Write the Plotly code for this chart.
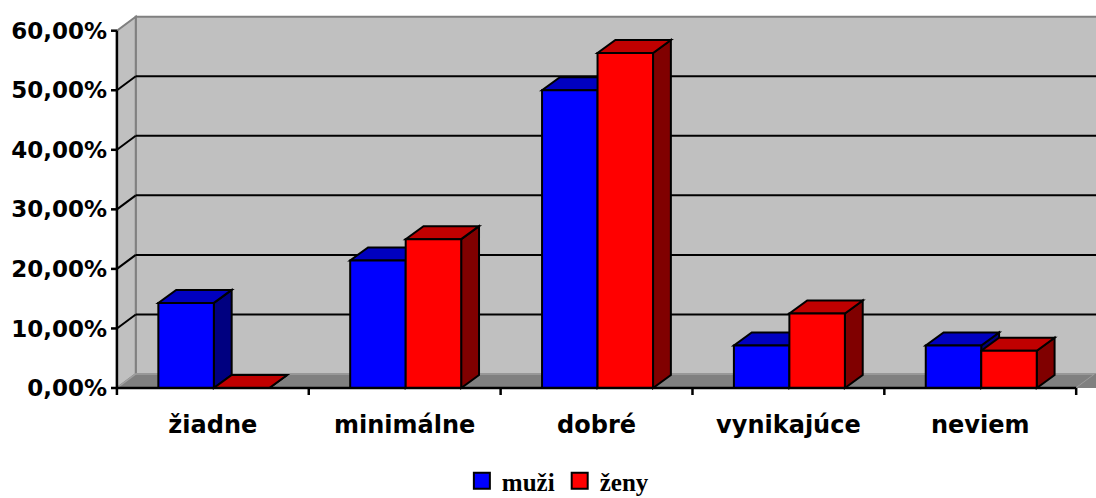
import plotly.graph_objects as go

# ---- data -------------------------------------------------------------
categories = ["žiadne", "minimálne", "dobré", "vynikajúce", "neviem"]
muzi = [14.29, 21.43, 50.00, 7.14, 7.14]
zeny = [0.00, 25.00, 56.25, 12.50, 6.25]
series_names = ["muži", "ženy"]
y_tick_values = [0, 10, 20, 30, 40, 50, 60]
y_tick_labels = ["0,00%", "10,00%", "20,00%", "30,00%", "40,00%", "50,00%", "60,00%"]

# ---- layout geometry (pixels) ------------------------------------------
W, H = 1096, 498
M_L, M_R, M_T, M_B = 108, 0, 14, 100
FRONT_LEFT_PX, FRONT_RIGHT_PX = 117, 1085
BASE_PX, TOP_PX = 388, 30.7
n_cat = len(categories)
y_max = y_tick_values[-1]

px_x = (FRONT_RIGHT_PX - FRONT_LEFT_PX) / n_cat
px_y = (BASE_PX - TOP_PX) / y_max
x_lo = -0.5 - (FRONT_LEFT_PX - M_L) / px_x
x_hi = -0.5 + (W - M_R - M_L) / px_x
y_lo = -(H - M_B - BASE_PX) / px_y
y_hi = (BASE_PX - M_T) / px_y

# depth offsets of the walls and of the bars
wall_dx, wall_dy = 19 / px_x, 14 / px_y
bar_dx, bar_dy = 18 / px_x, 13 / px_y
bar_w = 56 / px_x
group_shift = 1 / px_x

WALL = "#C0C0C0"
WALL_EDGE = "#808080"
FLOOR = "#808080"
front_cols = ["#0000FF", "#FF0000"]
top_cols = ["#0000C0", "#C00000"]
side_cols = ["#000080", "#800000"]


def poly(points):
    return "M " + " L ".join(f"{x},{y}" for x, y in points) + " Z"


shapes = []


def add_path(points, fill, line_color, line_width):
    shapes.append(dict(type="path", xref="x", yref="y", layer="below",
                       path=poly(points), fillcolor=fill,
                       line=dict(color=line_color, width=line_width)))


def add_line(x0, y0, x1, y1, color="black", width=2, layer="below"):
    shapes.append(dict(type="line", xref="x", yref="y", layer=layer,
                       x0=x0, y0=y0, x1=x1, y1=y1,
                       line=dict(color=color, width=width)))


left = -0.5
right = n_cat - 0.5

# back wall
add_path([(left + wall_dx, wall_dy), (right + wall_dx + 1, wall_dy),
          (right + wall_dx + 1, y_max + wall_dy), (left + wall_dx, y_max + wall_dy)],
         WALL, WALL_EDGE, 2)
# side wall
add_path([(left, 0), (left, y_max), (left + wall_dx, y_max + wall_dy),
          (left + wall_dx, wall_dy)], WALL, WALL_EDGE, 2)
# floor
add_path([(left, 0), (right, 0), (right + wall_dx, wall_dy),
          (left + wall_dx, wall_dy)], FLOOR, "#A0A0A0", 1.5)
# extension of the floor past the right edge
add_path([(right, 0), (right + 1, 0), (right + 1 + wall_dx, wall_dy),
          (right + wall_dx, wall_dy)], FLOOR, FLOOR, 0)

# gridlines on back and side wall
for v in y_tick_values[1:-1]:
    add_line(left + wall_dx, v + wall_dy, right + 1, v + wall_dy)
    add_line(left, v, left + wall_dx, v + wall_dy)

# 3D top and side faces of the bars
for i in range(n_cat):
    for s, vals in enumerate([muzi, zeny]):
        v = vals[i]
        x0 = i - bar_w + s * bar_w + group_shift
        x1 = x0 + bar_w
        add_path([(x1, 0), (x1, v), (x1 + bar_dx, v + bar_dy),
                  (x1 + bar_dx, bar_dy)], side_cols[s], "black", 2)
        add_path([(x0, v), (x1, v), (x1 + bar_dx, v + bar_dy),
                  (x0 + bar_dx, v + bar_dy)], top_cols[s], "black", 2)

# front axis lines and tick marks
add_line(left, 0, left, y_max, width=2.5, layer="above")
add_line(left, 0, right, 0, width=2.5, layer="above")
for v in y_tick_values:
    add_line(left - 6 / px_x, v, left, v, width=2.5, layer="above")
for k in range(n_cat + 1):
    add_line(k - 0.5, 0, k - 0.5, -7 / px_y, width=2.5, layer="above")

fig = go.Figure()
for s, vals in enumerate([muzi, zeny]):
    fig.add_trace(go.Bar(
        x=list(range(n_cat)), y=vals, name=series_names[s],
        width=bar_w, offset=-bar_w + s * bar_w + group_shift,
        marker=dict(color=front_cols[s], line=dict(color="black", width=2)),
        showlegend=False,
    ))
# legend keys
for s in range(2):
    fig.add_trace(go.Scatter(
        x=[None], y=[None], mode="markers", name=series_names[s],
        marker=dict(symbol="square", size=16, color=front_cols[s],
                    line=dict(color="black", width=2)),
    ))

y_font = dict(family="DejaVu Sans", size=23, color="black", weight="bold")
x_font = dict(family="DejaVu Sans", size=24, color="black", weight="bold")

fig.update_layout(
    width=W, height=H,
    margin=dict(l=M_L, r=M_R, t=M_T, b=M_B, pad=0),
    paper_bgcolor="white", plot_bgcolor="white",
    barmode="overlay",
    shapes=shapes,
    showlegend=True,
    legend=dict(orientation="h", xref="container", yref="container",
                x=0.509, y=0.034, xanchor="center", yanchor="middle",
                font=dict(family="Liberation Serif", size=25, color="black",
                          weight="bold"),
                itemwidth=30, borderwidth=0, bgcolor="rgba(0,0,0,0)"),
    xaxis=dict(range=[x_lo, x_hi], tickvals=list(range(n_cat)),
               ticktext=categories, ticks="", showgrid=False, zeroline=False,
               showline=False, tickfont=x_font, ticklabelstandoff=10,
               fixedrange=True),
    yaxis=dict(range=[y_lo, y_hi], tickvals=y_tick_values,
               ticktext=y_tick_labels, ticks="", showgrid=False,
               zeroline=False, showline=False, tickfont=y_font,
               fixedrange=True),
)

fig.write_html("out.html")
